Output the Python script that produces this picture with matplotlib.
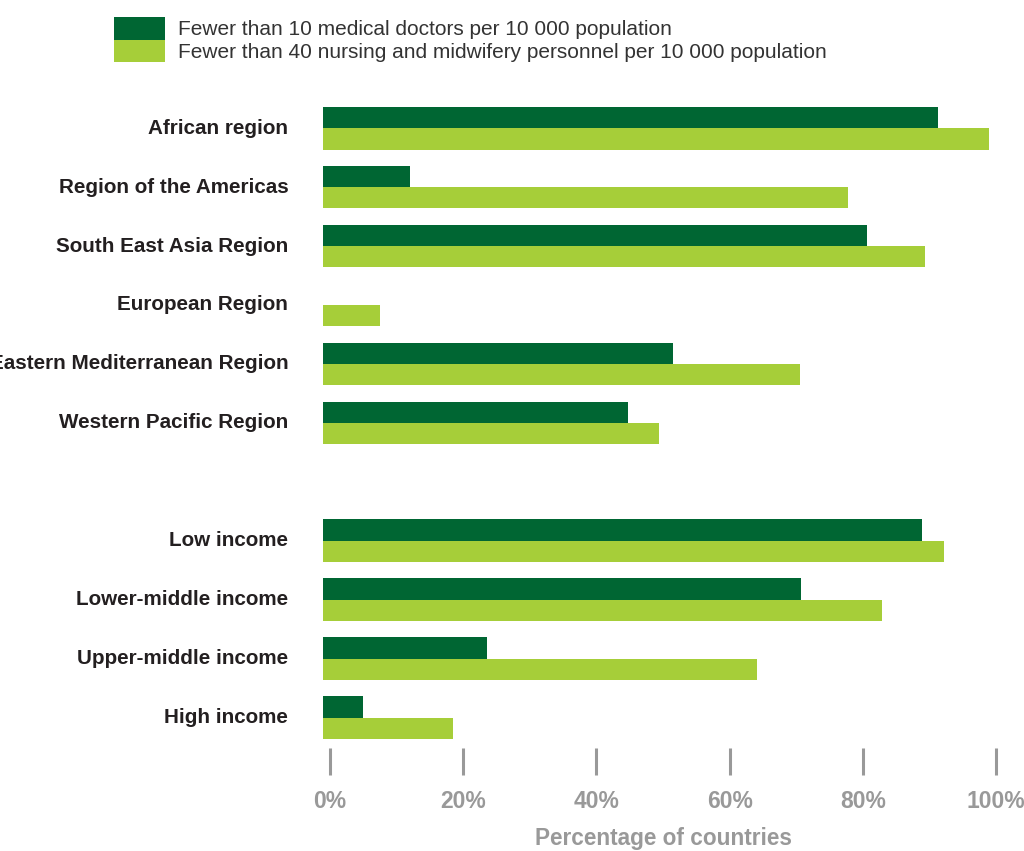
import matplotlib
matplotlib.use("Agg")
import matplotlib.pyplot as plt
from matplotlib.patches import Patch
import numpy as np

plt.rcParams['font.family'] = ['Liberation Sans', 'DejaVu Sans']

categories = ["African region", "Region of the Americas", "South East Asia Region",
              "European Region", "Eastern Mediterranean Region", "Western Pacific Region",
              "", "Low income", "Lower-middle income", "Upper-middle income", "High income"]
doctors = [92.3, 13.1, 81.7, 0.0, 52.6, 45.8, np.nan, 89.9, 71.8, 24.6, 6.0]
nurses = [100.0, 78.8, 90.4, 8.6, 71.6, 50.5, np.nan, 93.2, 83.9, 65.2, 19.5]
series_labels = ["Fewer than 10 medical doctors per 10 000 population",
                 "Fewer than 40 nursing and midwifery personnel per 10 000 population"]
xticks = [0, 20, 40, 60, 80, 100]
xticklabels = ["0%", "20%", "40%", "60%", "80%", "100%"]
xlabel = "Percentage of countries"

DARK = "#006633"
LIGHT = "#A6CE39"
GREY = "#999999"
TXT = "#231F20"

W, H = 1024, 851
fig = plt.figure(figsize=(W / 100, H / 100), dpi=100)

# bar axes (pixels: x 323..989 for 0..100 ; y 95..748)
left, right, top, bottom = 323, 989, 95, 748
pos = [left / W, 1 - bottom / H, (right - left) / W, (bottom - top) / H]
ax = fig.add_axes(pos)
y = np.arange(len(categories))
h = 0.364
ax.barh(y - h / 2, doctors, height=h, color=DARK, linewidth=0)
ax.barh(y + h / 2, nurses, height=h, color=LIGHT, linewidth=0)
ax.set_xlim(0, 100)
ax.set_ylim(10.51, -0.56)
ax.set_yticks([i for i, c in enumerate(categories) if c])
ax.set_yticklabels([c for c in categories if c], fontsize=14.9, fontweight='bold', color=TXT)
ax.tick_params(axis='y', length=0, pad=25)
for lbl in ax.get_yticklabels():
    lbl.set_verticalalignment('center')
ax.set_xticks([])
for s in ax.spines.values():
    s.set_visible(False)
ax.patch.set_alpha(0)

# tick axis (0% tick at x=330, 100% at x=996)
pos2 = [330 / W, 1 - bottom / H, 666 / W, (bottom - top) / H]
ax2 = fig.add_axes(pos2)
ax2.set_xlim(0, 100)
ax2.set_ylim(0, 1)
ax2.set_xticks(xticks)
ax2.set_xticklabels(xticklabels, fontsize=16.5, fontweight='bold', color=GREY)
ax2.tick_params(axis='x', length=19.5, width=2.2, color=GREY, direction='out', pad=11)
ax2.set_yticks([])
for s in ax2.spines.values():
    s.set_visible(False)
ax2.patch.set_alpha(0)
ax2.set_xlabel(xlabel, fontsize=16.3, fontweight='bold', color=GREY, labelpad=10)

handles = [Patch(facecolor=DARK, edgecolor='none'), Patch(facecolor=LIGHT, edgecolor='none')]
leg = fig.legend(handles, series_labels, loc='upper left', bbox_to_anchor=(114 / W, 1 - 17 / H),
                 frameon=False, fontsize=15, handlelength=2.45, handleheight=1.285,
                 labelspacing=0.0, handletextpad=0.62, borderpad=0, borderaxespad=0)
for t in leg.get_texts():
    t.set_color("#333333")

fig.savefig("out.png", dpi=100)
